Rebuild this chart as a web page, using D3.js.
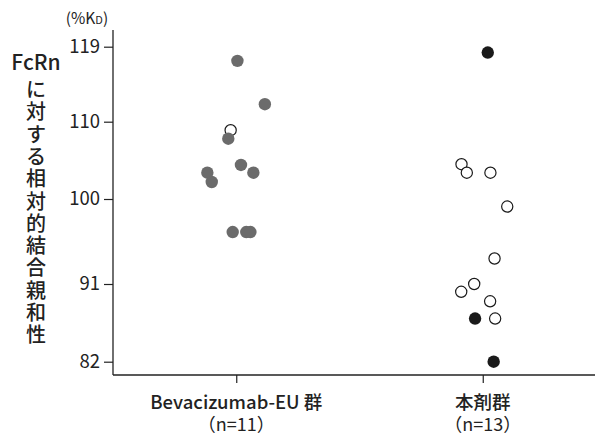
<!DOCTYPE html>
<html>
<head>
<meta charset="utf-8">
<script src="https://cdn.jsdelivr.net/npm/d3@7"></script>
<style>
  body { margin: 0; background: #fff; }
  svg { display: block; font-family: "Noto Sans CJK JP", "Noto Sans", sans-serif; }
</style>
</head>
<body>
<svg id="chart" width="595" height="438"></svg>
<script>
// ===== DATA =====
const groups = ['Bevacizumab-EU 群', '本剤群'];
const groupN = ['（n=11）', '（n=13）'];
const yTicks = [82, 91, 100, 110, 119];

// Bevacizumab-EU group: value, horizontal jitter (-1..1), marker type
const bevValues = [117.3, 112.1, 108.9, 107.8, 104.4, 103.4, 103.4, 102.2, 96.5, 96.5, 96.5];
const bevJitter = [0.04, 0.97, -0.19, -0.27, 0.16, 0.58, -0.98, -0.83, -0.12, 0.34, 0.48];
const bevType   = ['gray', 'gray', 'open', 'gray', 'gray', 'gray', 'gray', 'gray', 'gray', 'gray', 'gray'];

// 本剤群
const hbValues = [118.3, 104.5, 103.4, 103.4, 99.2, 93.7, 91.0, 90.1, 89.0, 87.0, 87.0, 82.0];
const hbJitter = [0.17, -0.72, -0.54, 0.26, 0.83, 0.40, -0.29, -0.73, 0.25, -0.26, 0.42, 0.37];
const hbType   = ['black', 'open', 'open', 'open', 'open', 'open', 'open', 'open', 'open', 'black', 'open', 'black'];

const series = [
    { group: groups[0], values: bevValues, jitter: bevJitter, type: bevType },
    { group: groups[1], values: hbValues, jitter: hbJitter, type: hbType }
];

// ===== LAYOUT =====
const svg = d3.select('#chart');
const mLeft = 113, mBottom = 375, mTop = 30, mRight = 595;

// tick spacing in the source isn't strictly linear, so use a polylinear scale
const y = d3.scaleLinear()
    .domain(yTicks)
    .range([361.7, 284, 199, 121.7, 46.7]);

const x = d3.scalePoint()
    .domain(groups)
    .range([mLeft, mLeft + 493])
    .padding(0.5);

const jitterX = d3.scaleLinear().domain([-1, 1]).range([-29.5, 29.5]);

// y axis
const yAxis = svg.append('g')
    .attr('transform', `translate(${mLeft},0)`)
    .call(d3.axisLeft(y).tickValues(yTicks).tickSize(9).tickPadding(4).tickSizeOuter(0));
yAxis.select('.domain').attr('d', `M0,${mTop}V${mBottom}`).attr('stroke', '#222').attr('stroke-width', 1.3);
yAxis.selectAll('.tick line').attr('stroke', '#222').attr('stroke-width', 1.2);
yAxis.selectAll('.tick text')
    .attr('font-size', 18.5).attr('fill', '#222')
    .attr('font-family', '"Noto Sans CJK JP", sans-serif');

// x axis
const xAxis = svg.append('g')
    .attr('transform', `translate(0,${mBottom})`)
    .call(d3.axisBottom(x).tickSize(8).tickSizeOuter(0).tickFormat(''));
xAxis.select('.domain').attr('d', `M${mLeft},0H${mRight}`).attr('stroke', '#222').attr('stroke-width', 1.3);
xAxis.selectAll('.tick line').attr('stroke', '#222').attr('stroke-width', 1.2);

// category labels
groups.forEach((g, i) => {
    svg.append('text')
        .attr('x', x(g)).attr('y', 409)
        .attr('text-anchor', 'middle')
        .attr('font-size', 18.5).attr('font-weight', 500).attr('fill', '#222')
        .text(g);
    svg.append('text')
        .attr('x', x(g)).attr('y', 431)
        .attr('text-anchor', 'middle')
        .attr('font-size', 18).attr('fill', '#222')
        .text(groupN[i]);
});

// unit label (%KD)
const unit = svg.append('text')
    .attr('x', 87).attr('y', 24)
    .attr('text-anchor', 'middle')
    .attr('font-size', 15.5).attr('fill', '#222');
unit.append('tspan').text('(%K');
unit.append('tspan').attr('font-size', 11).text('D');
unit.append('tspan').text(')');

// y axis title: FcRn + Japanese stacked one character per line
svg.append('text')
    .attr('x', 36).attr('y', 70)
    .attr('text-anchor', 'middle')
    .attr('font-size', 21).attr('font-weight', 500).attr('fill', '#222')
    .text('FcRn');
const vChars = Array.from('に対する相対的結合親和性');
svg.append('g').selectAll('text')
    .data(vChars)
    .join('text')
    .attr('x', 36)
    .attr('y', (d, i) => 97 + i * 22.3)
    .attr('text-anchor', 'middle')
    .attr('font-size', 20).attr('font-weight', 500).attr('fill', '#222')
    .text(d => d);

// points
const styles = {
    gray:  { fill: '#6b6b6b', stroke: 'none' },
    black: { fill: '#1a1a1a', stroke: 'none' },
    open:  { fill: '#fff', stroke: '#1a1a1a' }
};

series.forEach(s => {
    const pts = s.values.map((v, i) => ({ v, j: s.jitter[i], t: s.type[i] }));
    // draw open markers first so the filled ones sit on top (as in the source)
    pts.sort((a, b) => (a.t === 'open' ? 0 : 1) - (b.t === 'open' ? 0 : 1));
    svg.append('g').selectAll('circle')
        .data(pts)
        .join('circle')
        .attr('cx', d => x(s.group) + jitterX(d.j))
        .attr('cy', d => y(d.v))
        .attr('r', d => d.t === 'open' ? 5.6 : 6.2)
        .attr('fill', d => styles[d.t].fill)
        .attr('stroke', d => styles[d.t].stroke)
        .attr('stroke-width', 1.2);
});
</script>
</body>
</html>
